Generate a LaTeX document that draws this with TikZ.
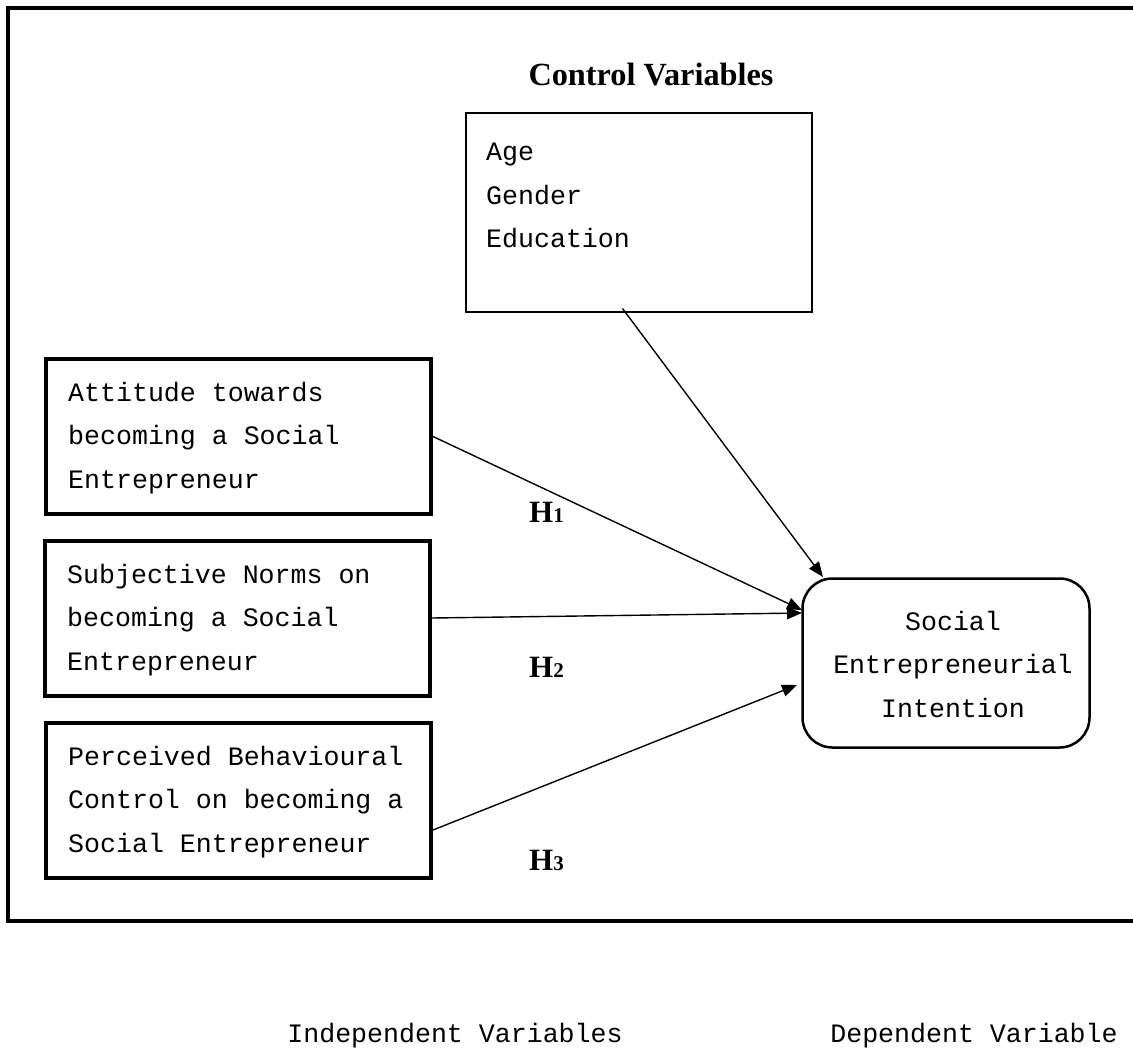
\documentclass[tikz,border=0pt]{standalone}
\usepackage{fontspec}
\setmainfont{Liberation Serif}
\newfontfamily\monof[WordSpace={1,0,0}]{Liberation Mono}
\usetikzlibrary{arrows.meta}
\begin{document}
\begin{tikzpicture}[x=1pt,y=-1pt,
  mono/.style={font={\monof\fontsize{26.6}{43.5}\selectfont\spaceskip=15.96pt\relax\xspaceskip=15.96pt\relax}},
  boxtext/.style={mono, align=flush left, anchor=west, inner sep=0pt},
  ivbox/.style={draw, line width=4pt, minimum width=385pt, minimum height=155pt},
  cvbox/.style={draw, line width=2pt, minimum width=346pt, minimum height=199pt},
  dvbox/.style={draw, line width=2.5pt, rounded corners=30pt, minimum width=287pt,
    minimum height=169pt},
  arr/.style={line width=1.4pt, -{Triangle[length=15pt,width=12pt]}},
  bold/.style={font={\bfseries\fontsize{32.3}{32.3}\selectfont}, inner sep=0pt},
  hlab/.style={font={\bfseries\fontsize{31}{31}\selectfont}, anchor=base west, inner sep=0pt}
]
\useasboundingbox (0,0) rectangle (1133,1050);
\draw[line width=3.5pt] (1150,8) -- (8,8) -- (8,921) -- (1150,921);

\node[bold, anchor=base] (cvt) at (651,85) {Control Variables};
\node[cvbox] (cv) at (638.5,212) {};
\node[boxtext] (cvtext) at (486,195.5) {Age\\Gender\\Education};

\node[ivbox] (att) at (238.5,436.5) {};
\node[boxtext] (atttext) at (68,438) {Attitude towards\\becoming a Social\\Entrepreneur};
\node[ivbox] (sn) at (237.5,618) {};
\node[boxtext] (sntext) at (67,620) {Subjective Norms on\\becoming a Social\\Entrepreneur};
\node[ivbox] (pbc) at (238.5,800) {};
\node[boxtext] (pbctext) at (68,802) {Perceived Behavioural\\Control on becoming a\\Social Entrepreneur};

\node[dvbox] (sei) at (946,663) {};
\node[mono, align=flush center, inner sep=0pt] (seitext) at (953,664) {Social\\Entrepreneurial\\Intention};

\coordinate (t0) at (823,577);
\coordinate (t1) at (802,610);
\coordinate (t2) at (802,613);
\coordinate (t3) at (797,685);

\draw[arr] ([xshift=-16pt,yshift=4pt]cv.south) -- (t0);
\draw[arr] (att.east) -- (t1);
\draw[arr] (sn.east) -- (t2);
\draw[arr] ([yshift=-30pt]pbc.east) -- (t3);

\node[hlab] (h1) at (529,522) {H{\fontsize{21}{21}\selectfont 1}};
\node[hlab] (h2) at (529,677) {H{\fontsize{21}{21}\selectfont 2}};
\node[hlab] (h3) at (529,870) {H{\fontsize{21}{21}\selectfont 3}};

\node[mono, anchor=base, inner sep=0pt] (iv) at (455,1042) {Independent Variables};
\node[mono, anchor=base, inner sep=0pt] (dv) at (974,1042) {Dependent Variable};
\end{tikzpicture}
\end{document}
